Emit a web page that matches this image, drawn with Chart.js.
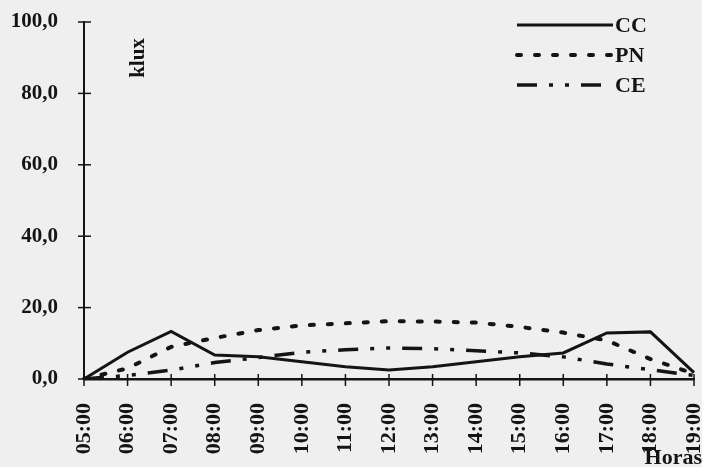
<!DOCTYPE html>
<html>
<head>
<meta charset="utf-8">
<script src="https://cdn.jsdelivr.net/npm/chart.js@4.4.1/dist/chart.umd.min.js"></script>
<style>
  html, body { margin: 0; padding: 0; background: #efefef; }
  #wrap { width: 702px; height: 467px; }
</style>
</head>
<body>
<div id="wrap"><canvas id="luxChart" width="702" height="467"></canvas></div>
<script>
// Data
const hours = ['05:00', '06:00', '07:00', '08:00', '09:00', '10:00', '11:00', '12:00', '13:00', '14:00', '15:00', '16:00', '17:00', '18:00', '19:00'];
const cc = [0, 7.5, 13.3, 6.7, 6.2, 4.8, 3.4, 2.5, 3.4, 4.8, 6.2, 7.3, 12.9, 13.2, 1.8];
const pn = [0, 3, 9, 11.5, 13.7, 15.0, 15.6, 16.2, 16.1, 15.8, 14.6, 13.0, 10.8, 5.6, 1.5];
const ce = [0, 1, 2.5, 4.6, 6.0, 7.5, 8.2, 8.7, 8.5, 7.9, 7.3, 6.2, 4.2, 2.6, 1];
const yTicks = [0, 20, 40, 60, 80, 100];

const ink = '#141414';
const serif = '"Liberation Serif", "DejaVu Serif", serif';

// Extra drawing: crossing tick marks, legend, axis captions
const extras = {
    id: 'extras',
    afterDraw(chart) {
        const ctx = chart.ctx;
        const xs = chart.scales.x, ys = chart.scales.y;
        ctx.save();
        ctx.strokeStyle = ink;
        ctx.lineWidth = 1.5;
        ctx.setLineDash([]);
        yTicks.forEach(v => {
            const py = ys.getPixelForValue(v);
            ctx.beginPath();
            ctx.moveTo(xs.left - 6, py);
            ctx.lineTo(xs.left + 7, py);
            ctx.stroke();
        });
        hours.forEach((h, i) => {
            const px = xs.getPixelForValue(i);
            ctx.beginPath();
            ctx.moveTo(px, ys.bottom - 5);
            ctx.lineTo(px, ys.bottom + 7);
            ctx.stroke();
        });

        // legend
        ctx.fillStyle = ink;
        ctx.font = 'bold 22px ' + serif;
        ctx.textBaseline = 'middle';
        ctx.textAlign = 'left';
        const rows = [25, 55, 85];
        chart.data.datasets.forEach((ds, i) => {
            ctx.save();
            ctx.strokeStyle = ds.borderColor;
            ctx.lineWidth = ds.borderWidth;
            ctx.lineCap = ds.borderCapStyle || 'butt';
            ctx.setLineDash(ds.borderDash || []);
            ctx.beginPath();
            ctx.moveTo(517, rows[i]);
            ctx.lineTo(613, rows[i]);
            ctx.stroke();
            ctx.restore();
            ctx.fillText(ds.label, 615, rows[i] + 1);
        });

        // klux
        ctx.save();
        ctx.translate(139, 58);
        ctx.rotate(-Math.PI / 2);
        ctx.textAlign = 'center';
        ctx.font = 'bold 21px ' + serif;
        ctx.fillText('klux', 0, 0);
        ctx.restore();

        // Horas
        ctx.textAlign = 'right';
        ctx.textBaseline = 'alphabetic';
        ctx.font = 'bold 22px ' + serif;
        ctx.fillText('Horas', 702, 464);
        ctx.restore();
    }
};

new Chart(document.getElementById('luxChart'), {
    type: 'line',
    data: {
        labels: hours,
        datasets: [
            {
                label: 'CC',
                data: cc,
                borderColor: ink,
                borderWidth: 3,
                pointRadius: 0,
                fill: false
            },
            {
                label: 'PN',
                data: pn,
                borderColor: ink,
                borderWidth: 4,
                borderDash: [4, 14],
                borderCapStyle: 'round',
                pointRadius: 0,
                fill: false
            },
            {
                label: 'CE',
                data: ce,
                borderColor: ink,
                borderWidth: 3.5,
                borderDash: [20, 12, 4, 12, 4, 12],
                pointRadius: 0,
                fill: false
            }
        ]
    },
    options: {
        responsive: false,
        animation: false,
        layout: {
            padding: { left: 0, right: 8, top: 22, bottom: 0 }
        },
        plugins: {
            legend: { display: false },
            tooltip: { enabled: false }
        },
        scales: {
            x: {
                offset: false,
                grid: { display: false },
                border: { display: true, color: ink, width: 2.5 },
                ticks: {
                    color: ink,
                    autoSkip: false,
                    maxRotation: 90,
                    minRotation: 90,
                    padding: 16,
                    font: { family: serif, size: 22, weight: 'bold' }
                },
                afterFit(scale) {
                    scale.height = 88;
                    scale.paddingLeft = 0;
                    scale.paddingRight = 0;
                }
            },
            y: {
                min: 0,
                max: 100,
                grid: { display: false },
                border: { display: true, color: ink, width: 2 },
                ticks: {
                    color: ink,
                    stepSize: 20,
                    padding: 18,
                    font: { family: serif, size: 21, weight: 'bold' },
                    callback: v => v.toFixed(1).replace('.', ',')
                },
                afterFit(scale) {
                    scale.width = 84;
                    scale.paddingTop = 0;
                    scale.paddingBottom = 0;
                }
            }
        }
    },
    plugins: [extras]
});
</script>
</body>
</html>
